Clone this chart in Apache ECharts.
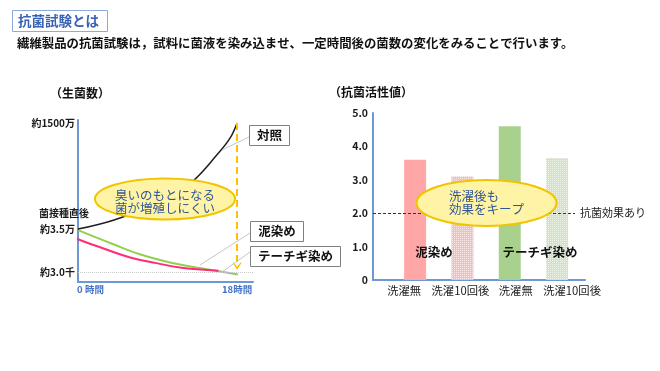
<!DOCTYPE html>
<html><head><meta charset="utf-8">
<script src="https://cdn.jsdelivr.net/npm/echarts@6/dist/echarts.min.js"></script>
<style>html,body{margin:0;padding:0;background:#fff}#c{width:660px;height:371px}</style>
</head><body><div id="c"></div>
<script>
// ---------- data: left chart (viable bacteria count, log scale) ----------
const controlSeries = [[0,35000],[4,58000],[8,127000],[11,280000],[13,540000],[15.7,2400000],[17.2,6300000],[18,15000000]];
const mudSeries = [[-2,31000],[0,19500],[2.1,13300],[5.9,6900],[8.9,5000],[11.5,3900],[15.9,3250]];
const techigiSeries = [[0,33000],[4,14700],[7,8300],[10.4,5200],[13.4,3900],[18.1,2600]];
const countTicks = [3000, 35000, 15000000];
const countTickLabels = ['約3.0千', '約3.5万', '約1500万'];
const hourTicks = [0, 18];
const hourTickLabels = ['0 時間', '18時間'];
const arrowRange = [15000000, 4200];
const floorLevel = 3000;

// ---------- data: right chart (antibacterial activity) ----------
const washCategories = ['洗濯無', '洗濯10回後', '洗濯無', '洗濯10回後'];
const activityValues = [3.6, 3.1, 4.6, 3.65];
const effectThreshold = 2.0;

const FONT = "'Noto Sans CJK JP', 'Noto Sans', sans-serif";
const AXIS_BLUE = '#6E97D8';

function pattern(base, dot) {
  const c = document.createElement('canvas');
  c.width = 2; c.height = 2;
  const g = c.getContext('2d');
  g.fillStyle = base; g.fillRect(0, 0, 2, 2);
  g.fillStyle = dot; g.fillRect(0, 0, 1, 1);
  return { image: c, repeat: 'repeat' };
}
const barFills = ['#FFA6A6', pattern('#F5BDBD', '#FDE6E6'), '#A9D18E', pattern('#CFE5BF', '#EEF6E8')];
// label nudges (px) so category labels sit where the reference prints them
const labelShift = [-11, -2, 6, 15];

function nearIdx(list, v, log) {
  let best = 0, bd = Infinity;
  list.forEach((t, i) => {
    const d = log ? Math.abs(Math.log10(t) - Math.log10(v)) : Math.abs(t - v);
    if (d < bd) { bd = d; best = i; }
  });
  return best;
}

const catRich = {};
labelShift.forEach((s, i) => {
  catRich['c' + i] = {
    color: '#1a1a1a', fontSize: 11.3, fontFamily: FONT,
    padding: s < 0 ? [0, -2 * s, 0, 0] : [0, 0, 0, 2 * s]
  };
});

const chart = echarts.init(document.getElementById('c'), null, { renderer: 'canvas' });

const txt = (x, y, text, o) => Object.assign({
  type: 'text', x: x, y: y, z: 100,
  style: Object.assign({ text: text, fontFamily: FONT, fontSize: 12, fill: '#111',
    textAlign: 'left', align: 'left', textVerticalAlign: 'middle', verticalAlign: 'middle' }, o || {})
});
const line = (x1, y1, x2, y2) => ({ type: 'line', z: 100, shape: { x1, y1, x2, y2 }, style: { stroke: '#C6C6C6', lineWidth: 1 } });
const box = (x, y, w, h) => ({ type: 'rect', z: 100, shape: { x, y, width: w, height: h }, style: { fill: '#fff', stroke: '#7F7F7F', lineWidth: 1 } });
const ell = (cx, cy, rx, ry) => ({ type: 'ellipse', z: 100, shape: { cx, cy, rx, ry }, style: { fill: '#FFF4A6', stroke: '#F2C300', lineWidth: 2 } });

const option = {
  animation: false,
  backgroundColor: '#fff',
  grid: [
    { left: 78, top: 120, width: 175, height: 162 },
    { left: 373, top: 113, width: 212, height: 167 }
  ],
  xAxis: [
    {
      type: 'value', gridIndex: 0, min: 0, max: 19.8,
      axisLine: { show: true, onZero: false, lineStyle: { color: AXIS_BLUE, width: 2 } },
      axisTick: { show: false }, splitLine: { show: false },
      axisLabel: {
        customValues: hourTicks, margin: 3,
        formatter: v => { const i = nearIdx(hourTicks, v); return (i === 0 ? '{a|' : '{b|') + hourTickLabels[i] + '}'; },
        rich: {
          a: { padding: [0, 0, 0, 25], color: '#4472C4', fontWeight: 'bold', fontSize: 9.5, fontFamily: FONT },
          b: { color: '#4472C4', fontWeight: 'bold', fontSize: 9.5, fontFamily: FONT }
        }
      }
    },
    {
      type: 'value', gridIndex: 1, min: 0.11, max: 4.59,
      axisLine: { show: true, onZero: false, lineStyle: { color: AXIS_BLUE, width: 2 } },
      axisTick: { show: false }, splitLine: { show: false },
      axisLabel: {
        customValues: washCategories.map((c, i) => i + 1), margin: 5,
        formatter: v => { const i = Math.round(v) - 1; return '{c' + i + '|' + washCategories[i] + '}'; },
        rich: catRich
      }
    }
  ],
  yAxis: [
    {
      type: 'log', gridIndex: 0, min: 1700, max: 17800000,
      axisLine: { show: true, onZero: false, lineStyle: { color: AXIS_BLUE, width: 2 } },
      axisTick: { show: false }, splitLine: { show: false },
      axisLabel: {
        customValues: countTicks, margin: 3,
        formatter: v => countTickLabels[nearIdx(countTicks, v, true)],
        color: '#1a1a1a', fontSize: 10, fontWeight: 'bold', fontFamily: FONT
      }
    },
    {
      type: 'value', gridIndex: 1, min: 0, max: 5, interval: 1,
      axisLine: { show: true, onZero: false, lineStyle: { color: AXIS_BLUE, width: 2 } },
      axisTick: { show: false }, splitLine: { show: false },
      axisLabel: {
        margin: 5, formatter: v => (v === 0 ? '0' : v.toFixed(1)),
        color: '#1a1a1a', fontSize: 10.5, fontWeight: 'bold', fontFamily: FONT
      }
    }
  ],
  series: [
    {
      name: 'テーチギ染め', type: 'line', xAxisIndex: 0, yAxisIndex: 0,
      data: techigiSeries, smooth: 0.4, symbol: 'none', clip: false,
      lineStyle: { color: '#92D050', width: 2 },
      markLine: {
        silent: true, symbol: ['none', 'none'], label: { show: false },
        lineStyle: { type: 'dotted', color: '#C8C8C8', width: 1 },
        data: [{ yAxis: floorLevel }]
      }
    },
    {
      name: '泥染め', type: 'line', xAxisIndex: 0, yAxisIndex: 0,
      data: mudSeries, smooth: 0.4, symbol: 'none', clip: false,
      lineStyle: { color: '#FF2D78', width: 2 }
    },
    {
      name: '対照', type: 'line', xAxisIndex: 0, yAxisIndex: 0,
      data: controlSeries, smooth: 0.4, symbol: 'none', clip: false,
      lineStyle: { color: '#1E1E1E', width: 1.5 },
      markLine: {
        silent: true, label: { show: false },
        symbol: ['none', 'path://M0,8L5,0L10,8L8.4,8L5,3L1.6,8Z'], symbolSize: [9, 7],
        lineStyle: { type: [7, 4], color: '#FFC000', width: 2 },
        data: [[{ coord: [18, arrowRange[0]] }, { coord: [18, arrowRange[1]] }]]
      }
    },
    {
      name: '抗菌活性値', type: 'bar', xAxisIndex: 1, yAxisIndex: 1, barWidth: 22,
      data: activityValues.map((v, i) => ({ value: [i + 1, v], itemStyle: { color: barFills[i] } })),
      markLine: {
        silent: true, symbol: ['none', 'none'],
        lineStyle: { type: [3, 2], color: '#333', width: 1 },
        label: { show: true, position: 'end', distance: 5, formatter: '抗菌効果あり', color: '#1a1a1a', fontSize: 11, fontFamily: FONT },
        data: [[{ coord: [0.11, effectThreshold] }, { coord: [4.38, effectThreshold] }]]
      }
    }
  ],
  graphic: {
    elements: [
      // header
      { type: 'rect', z: 100, shape: { x: 12.5, y: 10.5, width: 95, height: 21 }, style: { fill: '#fff', stroke: '#8FAADC', lineWidth: 1 } },
      txt(18, 21, '抗菌試験とは', { fontSize: 13.5, fontWeight: 'bold', fill: '#3863B5' }),
      txt(17, 43.5, '繊維製品の抗菌試験は，試料に菌液を染み込ませ、一定時間後の菌数の変化をみることで行います。', { fontSize: 12.4, fontWeight: 'bold', fill: '#111' }),
      txt(80, 93, '（生菌数）', { fontSize: 12, fontWeight: 'bold', textAlign: 'center', align: 'center' }),
      txt(371, 92, '（抗菌活性値）', { fontSize: 12, fontWeight: 'bold', textAlign: 'center', align: 'center' }),
      txt(39, 213, '菌接種直後', { fontSize: 10, fontWeight: 'bold', fill: '#1a1a1a' }),
      // left callouts
      line(249, 137, 222, 150),
      line(250, 233, 200, 265),
      line(250, 252, 222, 272),
      box(249.5, 125.5, 40, 20),
      txt(269.5, 135.5, '対照', { fontSize: 12.5, fontWeight: 'bold', textAlign: 'center', align: 'center' }),
      box(250.5, 221.5, 53, 20),
      txt(277, 231.5, '泥染め', { fontSize: 12.5, fontWeight: 'bold', textAlign: 'center', align: 'center' }),
      box(250.5, 246.5, 90, 20),
      txt(295.5, 256.5, 'テーチギ染め', { fontSize: 12.5, fontWeight: 'bold', textAlign: 'center', align: 'center' }),
      ell(165, 199, 70, 20.5),
      txt(165, 195.5, '臭いのもとになる', { fontSize: 12.5, fill: '#2E5597', textAlign: 'center', align: 'center' }),
      txt(165, 208.5, '菌が増殖しにくい', { fontSize: 12.5, fill: '#2E5597', textAlign: 'center', align: 'center' }),
      // right callouts
      ell(486.5, 203, 70, 23),
      txt(449, 196.5, '洗濯後も', { fontSize: 12.5, fill: '#2E5597' }),
      txt(449, 209.5, '効果をキープ', { fontSize: 12.5, fill: '#2E5597' }),
      txt(434, 252, '泥染め', { fontSize: 12.5, fontWeight: 'bold', textAlign: 'center', align: 'center' }),
      txt(540, 252, 'テーチギ染め', { fontSize: 12.5, fontWeight: 'bold', textAlign: 'center', align: 'center' })
    ]
  }
};
chart.setOption(option);
</script>
</body></html>
